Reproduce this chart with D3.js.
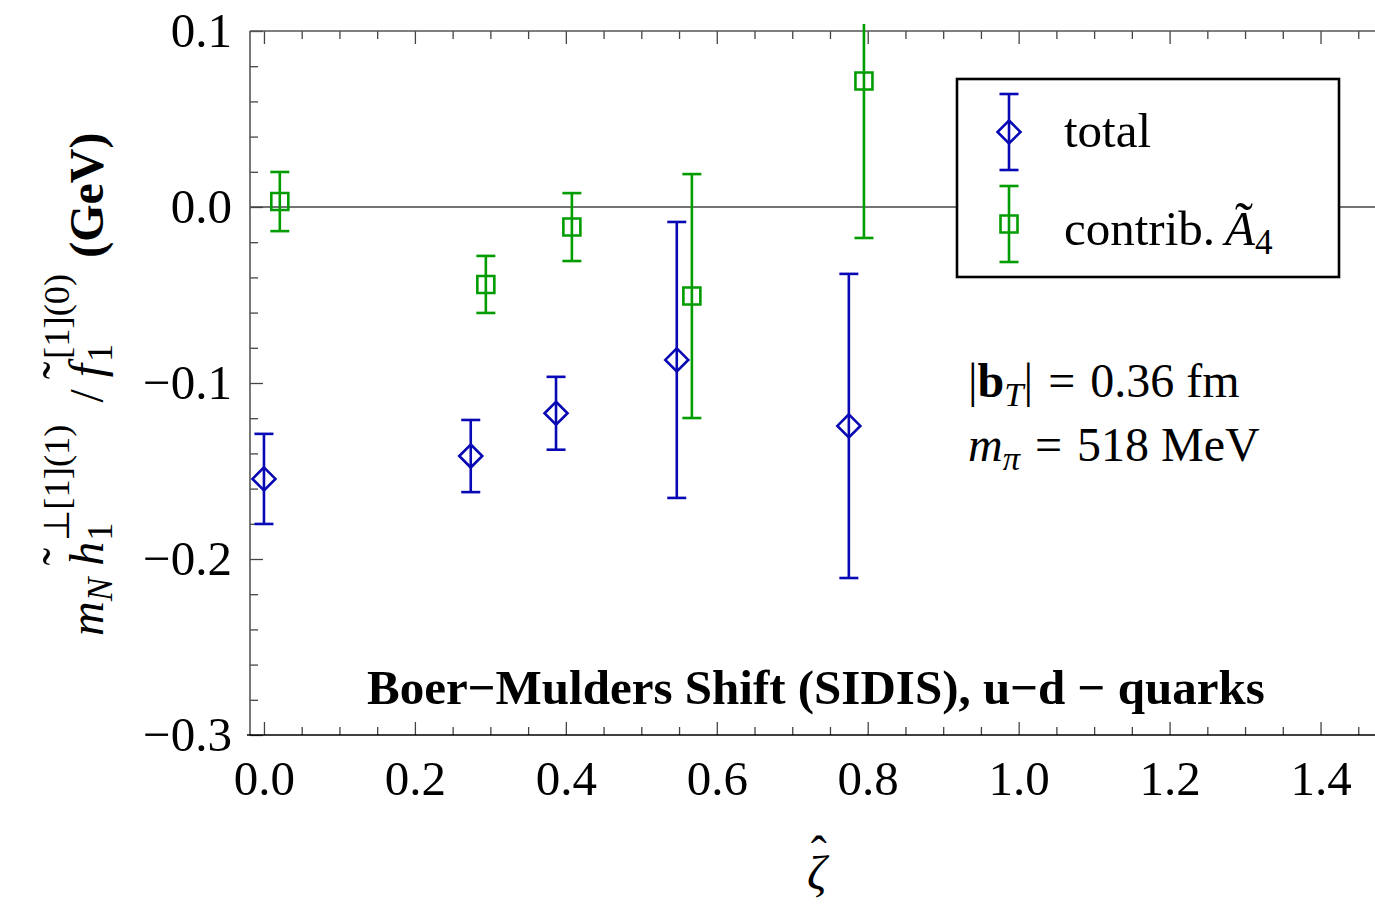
<!DOCTYPE html>
<html><head><meta charset="utf-8">
<script src="https://cdn.jsdelivr.net/npm/d3@7"></script>
<style>body{margin:0;background:#fff}svg{display:block}svg text{white-space:pre}</style>
</head><body>
<script>
// Boer–Mulders shift, u−d quarks: total and Ã4 contribution vs ζ̂
const zetaTotal = [0.000, 0.274, 0.387, 0.547, 0.775];
const valTotal  = [-0.1545, -0.1415, -0.1172, -0.0869, -0.1244];
const errTotal  = [0.0256, 0.0205, 0.0207, 0.0784, 0.0864];

const zetaA4 = [0.021, 0.294, 0.408, 0.567, 0.795];
const valA4  = [0.0031, -0.0440, -0.0114, -0.0506, 0.0716];
const errA4  = [0.0168, 0.0162, 0.0193, 0.0693, 0.0892];

const xMajorTicks = [0, 0.2, 0.4, 0.6, 0.8, 1.0, 1.2, 1.4];
const xTickLabels = ["0.0", "0.2", "0.4", "0.6", "0.8", "1.0", "1.2", "1.4"];
const yMajorTicks = [-0.3, -0.2, -0.1, 0.0, 0.1];
const yTickLabels = ["\u22120.3", "\u22120.2", "\u22120.1", "0.0", "0.1"];

const seriesNames = ["total", "contrib."];
const infoLine1 = "0.36 fm";
const infoLine2 = "518 MeV";
const title = "Boer\u2212Mulders Shift (SIDIS), u\u2212d \u2212 quarks";

const W = 1375, H = 909;
const FONT = "'Liberation Serif','Times New Roman',serif";
const BLUE = "#0808b4", GREEN = "#009c00";

const svg = d3.select("body").append("svg").attr("width", W).attr("height", H)
  .style("font-family", FONT);

const frameL = 250, frameT = 31, frameB = 735, frameR = 1396;
const x = d3.scaleLinear().domain([-0.0185, 1.5]).range([frameL, frameR]);
const y = d3.scaleLinear().domain([-0.3, 0.1]).range([frameB, frameT]);

const xMinor = d3.range(0, 1.5001, 0.05).filter(v => !xMajorTicks.some(m => Math.abs(m - v) < 1e-6));
const yMinor = d3.range(-0.3, 0.1001, 0.02).filter(v => !yMajorTicks.some(m => Math.abs(m - v) < 1e-6));

// zero line
svg.append("line").attr("x1", frameL).attr("x2", W).attr("y1", y(0)).attr("y2", y(0))
  .attr("stroke", "#444").attr("stroke-width", 1.5);

// axes with inward ticks
function styleAxis(g) {
  g.select(".domain").remove();
  g.selectAll(".tick line").attr("stroke", "#444").attr("stroke-width", 1.3);
  g.selectAll(".tick text").attr("fill", "#000").style("font-family", FONT).style("font-size", "49px");
}
svg.append("g").attr("transform", `translate(0,${frameB})`)
  .call(d3.axisBottom(x).tickValues(xMajorTicks).tickSize(-13).tickPadding(25)
    .tickFormat((d, i) => xTickLabels[i])).call(styleAxis);
svg.append("g").attr("transform", `translate(0,${frameB})`)
  .call(d3.axisBottom(x).tickValues(xMinor).tickSize(-8).tickFormat("")).call(styleAxis);
svg.append("g").attr("transform", `translate(0,${frameT})`)
  .call(d3.axisTop(x).tickValues(xMajorTicks).tickSize(-13).tickFormat("")).call(styleAxis);
svg.append("g").attr("transform", `translate(0,${frameT})`)
  .call(d3.axisTop(x).tickValues(xMinor).tickSize(-8).tickFormat("")).call(styleAxis);
svg.append("g").attr("transform", `translate(${frameL},0)`)
  .call(d3.axisLeft(y).tickValues(yMajorTicks).tickSize(-13).tickPadding(18)
    .tickFormat((d, i) => yTickLabels[i])).call(styleAxis);
svg.append("g").attr("transform", `translate(${frameL},0)`)
  .call(d3.axisLeft(y).tickValues(yMinor).tickSize(-8).tickFormat("")).call(styleAxis);

// frame
svg.append("line").attr("x1", frameL).attr("x2", frameL).attr("y1", frameT).attr("y2", frameB)
  .attr("stroke", "#555").attr("stroke-width", 1.6);
svg.append("line").attr("x1", frameL).attr("x2", frameR).attr("y1", frameT).attr("y2", frameT)
  .attr("stroke", "#555").attr("stroke-width", 1.6);
svg.append("line").attr("x1", frameL - 3).attr("x2", frameR).attr("y1", frameB).attr("y2", frameB)
  .attr("stroke", "#000").attr("stroke-width", 1.6);

// data clip (small padding above the frame)
svg.append("clipPath").attr("id", "plotclip").append("rect")
  .attr("x", frameL).attr("y", frameT - 7).attr("width", frameR - frameL).attr("height", frameB - frameT + 7);

const CAP = 9.5;
const diamond = "M0,-11.5L11.5,0L0,11.5L-11.5,0Z";
const square = "M-8.5,-8.5H8.5V8.5H-8.5Z";

function drawSeries(xs, vs, es, color, shape) {
  const g = svg.append("g").attr("clip-path", "url(#plotclip)")
    .attr("stroke", color).attr("stroke-width", 2.6).attr("fill", "none");
  const data = xs.map((d, i) => ({ z: d, v: vs[i], e: es[i] }));
  const pts = g.selectAll("g.pt").data(data).join("g").attr("class", "pt");
  pts.append("line").attr("x1", d => x(d.z)).attr("x2", d => x(d.z))
    .attr("y1", d => y(d.v - d.e)).attr("y2", d => y(d.v + d.e));
  pts.append("line").attr("x1", d => x(d.z) - CAP).attr("x2", d => x(d.z) + CAP)
    .attr("y1", d => y(d.v - d.e)).attr("y2", d => y(d.v - d.e));
  pts.append("line").attr("x1", d => x(d.z) - CAP).attr("x2", d => x(d.z) + CAP)
    .attr("y1", d => y(d.v + d.e)).attr("y2", d => y(d.v + d.e));
  pts.append("path").attr("d", shape)
    .attr("transform", d => `translate(${x(d.z)},${y(d.v)})`);
}
drawSeries(zetaA4, valA4, errA4, GREEN, square);
drawSeries(zetaTotal, valTotal, errTotal, BLUE, diamond);

// sequential math-style text runs
function runs(g, parts, size) {
  let cx = 0;
  let lastStart = 0, lastW = 0;
  parts.forEach(p => {
    const fs = (p.scale || 1) * size;
    if (p.space) { cx += p.space; return; }
    if (p.accent) {
      g.append("text").attr("x", lastStart + lastW / 2 + (p.dx || 0)).attr("y", p.dy || 0)
        .attr("text-anchor", "middle").style("font-size", fs + "px")
        .style("font-style", p.italic ? "italic" : "normal").text(p.accent);
      return;
    }
    const t = g.append("text").attr("x", p.atLast ? lastStart + lastW + (p.dx || 0) : cx + (p.dx || 0))
      .attr("y", p.dy || 0).style("font-size", fs + "px")
      .style("font-style", p.italic ? "italic" : "normal")
      .style("font-weight", p.bold ? "bold" : "normal").text(p.t);
    const w = t.node().getComputedTextLength();
    if (p.atLast) {
      cx = Math.max(cx, lastStart + lastW + (p.dx || 0) + w);
    } else {
      lastStart = cx + (p.dx || 0); lastW = w;
      cx = lastStart + w;
    }
  });
  return cx;
}

// y axis label
const yl = svg.append("g").attr("transform", "translate(103,636) rotate(-90)");
runs(yl, [
  { t: "m", italic: true },
  { t: "N", italic: true, scale: 0.74, dy: 9 },
  { space: 12 },
  { t: "h", italic: true },
  { accent: "\u02DC", dy: -24, dx: -3, scale: 1.1 },
  { t: "1", scale: 0.76, dy: 9, atLast: true, dx: 1 },
  { t: "\u22A5[1](1)", scale: 0.76, dy: -34, atLast: true, dx: 1 },
  { space: 22 },
  { t: "/" },
  { space: 12 },
  { t: "f", italic: true },
  { accent: "\u02DC", dy: -24, dx: 0, scale: 1.1 },
  { t: "1", scale: 0.76, dy: 9, atLast: true, dx: 2 },
  { t: "[1](0)", scale: 0.76, dy: -34, atLast: true, dx: 5 },
  { space: 16 },
  { t: "(GeV)", bold: true }
], 48);

// x axis label ζ̂
const xl = svg.append("g").attr("transform", "translate(807,889)");
runs(xl, [
  { t: "\u03B6", italic: true },
  { accent: "\u02C6", dy: -19, dx: 2 }
], 48);

// title
svg.append("text").attr("x", 367).attr("y", 704).style("font-size", "49px")
  .style("font-weight", "bold").text(title);

// parameters
const p1 = svg.append("g").attr("transform", "translate(968,397)");
runs(p1, [
  { t: "|" }, { t: "b", bold: true }, { t: "T", italic: true, scale: 0.72, dy: 9 },
  { t: "|" }, { space: 15 }, { t: "=" }, { space: 15 }, { t: infoLine1 }
], 48);
const p2 = svg.append("g").attr("transform", "translate(968,461)");
runs(p2, [
  { t: "m", italic: true }, { t: "\u03C0", italic: true, scale: 0.72, dy: 9 },
  { space: 15 }, { t: "=" }, { space: 15 }, { t: infoLine2 }
], 48);

// legend
const lg = svg.append("g");
lg.append("rect").attr("x", 957).attr("y", 79).attr("width", 382).attr("height", 198)
  .attr("fill", "#fff").attr("stroke", "#000").attr("stroke-width", 2.6);
const legendItems = [
  { color: BLUE, shape: diamond, cy: 132 },
  { color: GREEN, shape: square, cy: 224 }
];
legendItems.forEach(it => {
  const g = lg.append("g").attr("stroke", it.color).attr("stroke-width", 2.6).attr("fill", "none")
    .attr("transform", `translate(1009,${it.cy})`);
  g.append("line").attr("y1", -38).attr("y2", 38);
  g.append("line").attr("x1", -CAP).attr("x2", CAP).attr("y1", -38).attr("y2", -38);
  g.append("line").attr("x1", -CAP).attr("x2", CAP).attr("y1", 38).attr("y2", 38);
  g.append("path").attr("d", it.shape);
});
const lt1 = lg.append("g").attr("transform", "translate(1064,147)");
runs(lt1, [{ t: seriesNames[0] }], 49);
const lt2 = lg.append("g").attr("transform", "translate(1064,245)");
runs(lt2, [
  { t: seriesNames[1] },
  { space: 10 },
  { t: "A", italic: true },
  { accent: "\u02DC", dy: -5, dx: 4, scale: 1.1 },
  { t: "4", scale: 0.72, dy: 9 }
], 49);
</script>
</body></html>
